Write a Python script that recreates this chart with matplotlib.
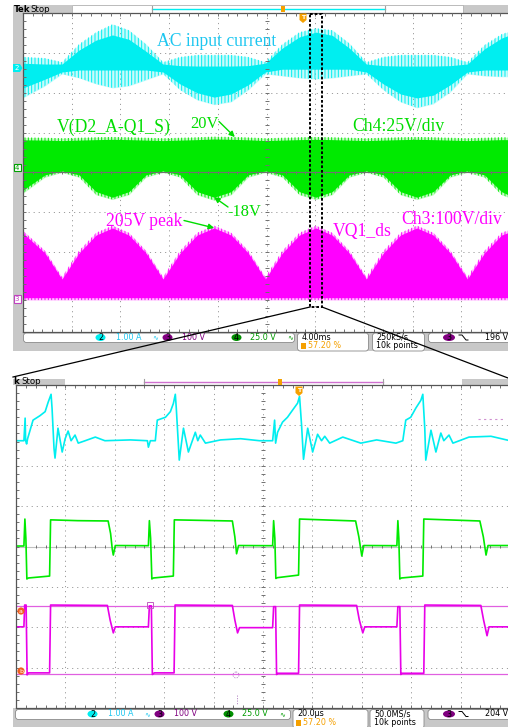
import matplotlib
matplotlib.use("Agg")
import matplotlib.pyplot as plt
from matplotlib.patches import Rectangle, FancyBboxPatch, Ellipse, Circle, Polygon
from matplotlib.collections import LineCollection
import numpy as np

# ---------------- scope settings ----------------
top_ms_per_div = 4.0        # upper record: 4.00 ms/div
zoom_us_per_div = 20.0      # lower record: 20.0 us/div
ch2_A_per_div = 1.00        # AC input current
ch3_V_per_div = 100.0       # VQ1_ds
ch4_V_per_div = 25.0        # V(D2_A-Q1_S)
ch2_pos = 2.62              # channel ground positions (divisions from centre)
ch3_pos = -3.17
ch4_pos = 0.0

# ---------------- upper record: envelopes of the dense traces ----------------
t_top = [0, 1.8, 3.2, 4.6, 6.0, 7.35, 8.7, 10.1, 11.5, 12.9, 14.3, 15.7, 17.1, 18.5,
         19.9, 21.3, 22.7, 24.05, 25.4, 26.8, 28.2, 29.6, 31.0, 32.35, 33.7, 35.1,
         36.5, 37.9, 39.3, 40.0]
# AC input current (A)
cur_core_hi = [0.12, 0.10, 0.10, 0.45, 0.70, 0.83, 0.72, 0.42, 0.10, 0.06, 0.05, 0.05,
               0.05, 0.06, 0.12, 0.50, 0.78, 0.90, 0.82, 0.50, 0.10, 0.06, 0.05, 0.05,
               0.05, 0.06, 0.10, 0.48, 0.75, 0.83]
cur_fringe_hi = [0.28, 0.25, 0.15, 0.60, 0.90, 1.10, 0.95, 0.60, 0.15, 0.28, 0.33, 0.33,
                 0.33, 0.28, 0.15, 0.60, 0.90, 1.00, 0.95, 0.62, 0.15, 0.28, 0.33, 0.33,
                 0.33, 0.28, 0.15, 0.58, 0.85, 0.92]
cur_core_lo = [-0.50, -0.28, -0.10, -0.05, -0.05, -0.05, -0.05, -0.05, -0.10, -0.40, -0.62,
               -0.73, -0.65, -0.42, -0.10, -0.03, -0.03, -0.03, -0.03, -0.03, -0.10, -0.40,
               -0.65, -0.75, -0.68, -0.42, -0.10, -0.05, -0.05, -0.05]
cur_fringe_lo = [-0.75, -0.45, -0.15, -0.25, -0.40, -0.50, -0.45, -0.30, -0.15, -0.55, -0.80,
                 -0.92, -0.85, -0.55, -0.15, -0.20, -0.25, -0.28, -0.25, -0.20, -0.15, -0.55,
                 -0.85, -1.00, -0.90, -0.60, -0.15, -0.20, -0.22, -0.22]
# V(D2_A-Q1_S) (V)
gate_core_hi = [20.5, 20.3, 20.0, 20.3, 20.6, 20.8, 20.6, 20.3, 20.0, 20.3, 20.6, 21.0, 20.8,
                20.5, 20.0, 20.3, 20.6, 20.8, 20.6, 20.3, 20.0, 20.3, 20.6, 20.8, 20.6, 20.3,
                20.0, 20.3, 20.6, 20.6]
gate_fringe_hi = [22.0, 21.8, 21.5, 21.8, 22.1, 22.3, 22.1, 21.8, 21.5, 21.8, 22.1, 22.5, 22.3,
                  22.0, 21.5, 21.8, 22.1, 22.3, 22.1, 21.8, 21.5, 21.8, 22.1, 22.3, 22.1, 21.8,
                  21.5, 21.8, 22.1, 22.1]
gate_core_lo = [-11.0, -1.5, 1.0, -1.5, -12.0, -15.5, -12.0, -1.5, 1.0, -1.5, -12.0, -15.5,
                -12.0, -1.5, 1.0, -1.5, -12.0, -15.5, -12.0, -1.5, 1.0, -1.5, -12.0, -15.5,
                -12.0, -1.5, 1.0, -1.5, -12.0, -14.5]
gate_fringe_lo = [-13.0, -3.0, 0.0, -3.0, -14.0, -17.0, -14.0, -3.0, 0.0, -3.0, -14.0, -17.5,
                  -14.0, -3.0, 0.0, -3.0, -14.0, -17.0, -14.0, -3.0, 0.0, -3.0, -14.0, -17.0,
                  -14.0, -3.0, 0.0, -3.0, -14.0, -16.0]
# VQ1_ds (V)
vds_core_hi = [165, 115, 50, 115, 160, 178, 160, 115, 50, 115, 160, 178, 160, 115, 50, 115,
               160, 178, 160, 115, 50, 115, 160, 178, 160, 115, 50, 115, 160, 168]
vds_fringe_hi = [171, 121, 55, 121, 166, 184, 166, 121, 55, 121, 166, 184, 166, 121, 55, 121,
                 166, 184, 166, 121, 55, 121, 166, 184, 166, 121, 55, 121, 166, 174]
vds_core_lo = [3] * len(t_top)
vds_fringe_lo = [-3] * len(t_top)

# ---------------- lower record: switching detail ----------------
cur_t = [0, 3.2, 3.7, 3.9, 4.3, 4.7, 6.9, 9.7, 11.8, 13.0, 14.2, 14.6, 15.4, 15.8, 17.0,
         18.7, 19.9, 21.1, 22.3, 23.9, 25.2, 28.0, 32.1, 36.0, 46.3, 53.2, 53.6, 54.4,
         56.4, 57.2, 60.5, 62.5, 63.7, 64.5, 64.9, 66.1, 67.8, 69.8, 72.6, 73.6, 74.6,
         76.7, 82.8, 90.9, 98.6, 103.9, 104.7, 105.1, 105.9, 107.9, 109.9, 112.0, 114.0,
         114.8, 115.6, 116.4, 118.1, 120.1, 122.1, 123.7, 125.0, 127.0, 132.3, 139.6,
         146.0, 153.8, 156.6, 157.8, 159.8, 161.9, 163.9, 164.7, 165.5, 165.9, 168.0,
         170.0, 172.0, 173.2, 175.3, 176.9, 183.4, 192.3, 200.0]
cur_a = [0.0, 0.0, 0.56, 0.0, -0.08, 0.05, 0.51, 0.62, 0.72, 0.95, 1.15, 0.80, -0.20, -0.43,
         0.31, -0.28, 0.05, 0.24, 0.0, 0.14, -0.06, 0.0, 0.09, 0.0, 0.02, 0.0, -0.16, 0.0,
         0.0, 0.51, 0.58, 0.72, 0.92, 1.15, 0.80, -0.48, 0.31, -0.28, 0.21, 0.0, 0.14,
         -0.06, 0.02, 0.05, 0.0, 0.0, 0.51, -0.06, 0.21, 0.46, 0.58, 0.76, 0.93, 1.10,
         0.40, -0.46, 0.31, -0.28, 0.16, 0.0, 0.11, -0.06, 0.09, -0.06, 0.02, -0.06, 0.0,
         0.51, 0.58, 0.81, 1.00, 1.15, 0.30, -0.48, 0.26, -0.28, 0.19, 0.0, 0.14, -0.06,
         0.09, 0.11, 0.0]
gate_t = [0, 3.2, 3.6, 4.0, 4.4, 5.0, 13.6, 14.0, 25.0, 37.3, 38.3, 39.0, 39.4, 40.2,
          53.6, 54.0, 54.5, 55.0, 55.6, 63.7, 64.1, 87.6, 88.6, 89.3, 90.1,
          103.9, 104.3, 104.8, 105.2, 105.8, 114.4, 114.8, 137.5, 138.8, 140.0, 140.8,
          154.2, 154.6, 155.0, 155.4, 156.0, 164.7, 165.1, 187.8, 189.2, 190.3, 191.1, 200.0]
gate_v = [0.3, 0.3, 17.0, 5.0, -20.1, -19.5, -18.3, 16.5, 16.0, 15.8, 8.0, -2.0, -5.3, 0.6,
          0.5, 16.0, 5.0, -20.1, -19.5, -18.3, 16.5, 15.8, 6.0, -4.5, 0.6,
          0.5, 16.0, 5.0, -19.8, -19.3, -17.7, 17.0, 15.8, 6.0, -5.9, 0.6,
          0.5, 16.0, 5.0, -20.1, -19.5, -18.3, 17.0, 15.8, 6.0, -5.3, 0.6, 0.6]
vds_t = [0, 3.2, 3.5, 4.1, 4.5, 5.0, 13.6, 14.0, 37.0, 38.1, 39.4, 40.2,
         53.6, 54.0, 54.8, 55.2, 56.0, 64.0, 64.4, 87.6, 88.6, 89.7, 90.5,
         103.9, 104.3, 105.1, 105.5, 106.0, 114.4, 114.8, 137.9, 139.0, 140.4, 141.2,
         154.2, 154.6, 155.4, 155.8, 156.3, 165.1, 165.5, 188.2, 189.3, 190.7, 191.5, 200.0]
vds_v = [118, 118, 172, 172, -1, 4, 4, 172, 171, 135, 103, 118,
         118, 170, 170, 0, 4, 4, 172, 171, 135, 103, 116,
         116, 168, 168, 0, 3, 3, 172, 171, 135, 103, 118,
         118, 168, 168, 0, 3, 3, 172, 171, 135, 96, 118, 118]
cursor_a_v = 170.0
cursor_b_v = 0.0

# ---------------- colours ----------------
CYAN = '#00EEF0'
CYAN_TXT = '#1CC6F0'
GREEN = '#00EA00'
GREEN_TXT = '#00DD00'
MAG = '#FF00FF'
MAG_TXT = '#FF00FF'
GRAY = '#C8C8C8'
ORANGE = '#F5A000'
PURPLE = '#800080'
GRID = '#9C9C9C'
SERIF = 'Liberation Serif'

plt.rcParams['hatch.linewidth'] = 0.7

W, H = 508, 727
fig = plt.figure(figsize=(W / 100, H / 100), dpi=100)
fig.patch.set_facecolor('white')


def px_axes(l, t, r, b, z):
    return fig.add_axes([l / W, 1 - b / H, (r - l) / W, (b - t) / H], zorder=z)


def overlay(z):
    a = fig.add_axes([0, 0, 1, 1], zorder=z)
    a.set_xlim(0, W)
    a.set_ylim(H, 0)
    a.axis('off')
    a.patch.set_alpha(0)
    return a


bg = overlay(0)
ax1 = px_axes(23, 13, 510, 332, 1)
ax2 = px_axes(16, 385, 510, 708, 1)
fg = overlay(5)


def graticule(ax, xpx, ypx, centre_col, centre_z):
    ax.set_xlim(0, 10)
    ax.set_ylim(-4, 4)
    ax.set_xticks([])
    ax.set_yticks([])
    ax.spines['right'].set_visible(False)
    for s in ('left', 'top', 'bottom'):
        ax.spines[s].set_color('#555555')
        ax.spines[s].set_linewidth(0.9)
    for x in range(1, 10):
        ax.axvline(x, color=GRID, lw=0.7, ls=(0, (1.2, 4)), zorder=0.5)
    for y in range(-3, 4):
        if y != 0:
            ax.axhline(y, color=GRID, lw=0.7, ls=(0, (1.2, 4)), zorder=0.5)
    ax.axhline(0, color=centre_col, lw=0.8, zorder=centre_z)
    hx, hy = 2.0 / xpx, 2.0 / ypx
    segs = []
    for i in range(1, 50):
        x = i * 0.2
        segs.append([(x, -hy), (x, hy)])
        segs.append([(x, 4), (x, 4 - 1.6 * hy)])
        segs.append([(x, -4), (x, -4 + 1.6 * hy)])
    for j in range(1, 40):
        y = -4 + j * 0.2
        segs.append([(5 - hx, y), (5 + hx, y)])
        segs.append([(0, y), (1.6 * hx, y)])
    ax.add_collection(LineCollection(segs, colors='#707070', linewidths=0.7, zorder=centre_z))


graticule(ax1, 48.7, 39.9, '#707070', 3)
graticule(ax2, 49.4, 40.4, '#C0C0C0', 0.6)


def band(ax, t, lo, hi, scale, pos, color, z, fringe=False):
    x = np.asarray(t) / top_ms_per_div
    y0 = pos + np.asarray(lo) / scale
    y1 = pos + np.asarray(hi) / scale
    if fringe:
        # sparse switching spikes around the dense part of the trace
        ax.fill_between(x, y0, y1, color=color, alpha=0.22, lw=0, zorder=z)
        ax.fill_between(x, y0, y1, facecolor='none', edgecolor=color, hatch='|||||',
                        lw=0, zorder=z)
    else:
        ax.fill_between(x, y0, y1, color=color, lw=0, zorder=z)


# upper record
band(ax1, t_top, vds_fringe_lo, vds_fringe_hi, ch3_V_per_div, ch3_pos, MAG, 1, True)
band(ax1, t_top, vds_core_lo, vds_core_hi, ch3_V_per_div, ch3_pos, MAG, 2)
band(ax1, t_top, gate_fringe_lo, gate_fringe_hi, ch4_V_per_div, ch4_pos, GREEN, 1, True)
band(ax1, t_top, gate_core_lo, gate_core_hi, ch4_V_per_div, ch4_pos, GREEN, 2)
band(ax1, t_top, cur_fringe_lo, cur_fringe_hi, ch2_A_per_div, ch2_pos, CYAN, 1, True)
band(ax1, t_top, cur_core_lo, cur_core_hi, ch2_A_per_div, ch2_pos, CYAN, 2)

# lower record
ax2.axhline(ch3_pos + cursor_a_v / ch3_V_per_div, color='#E060E0', lw=0.9, zorder=1)
ax2.axhline(ch3_pos + cursor_b_v / ch3_V_per_div, color='#E060E0', lw=0.9, zorder=1)
ax2.plot(np.asarray(cur_t) / zoom_us_per_div, ch2_pos + np.asarray(cur_a) / ch2_A_per_div,
         color=CYAN, lw=1.2, zorder=2)
ax2.plot(np.asarray(gate_t) / zoom_us_per_div, ch4_pos + np.asarray(gate_v) / ch4_V_per_div,
         color=GREEN, lw=1.2, zorder=2)
ax2.plot(np.asarray(vds_t) / zoom_us_per_div, ch3_pos + np.asarray(vds_v) / ch3_V_per_div,
         color='#E800E8', lw=1.2, zorder=2)

# ---------------- screen frames ----------------
bg.add_patch(Rectangle((13, 5), 10, 346, fc=GRAY, ec='none'))
bg.add_patch(Rectangle((13, 332), 495, 19, fc=GRAY, ec='none'))
bg.add_patch(Rectangle((13, 5), 59, 8, fc=GRAY, ec='none'))
bg.add_patch(Rectangle((463, 5), 45, 8, fc=GRAY, ec='none'))
bg.add_patch(Rectangle((72, 5), 391, 7.5, fc='white', ec='#B0B0B0', lw=0.6))
bg.plot([152, 385], [8.5, 8.5], color=CYAN, lw=1.0)
bg.plot([152, 152], [5.5, 12], color='#A0A0A0', lw=0.8)
bg.plot([385, 385], [5.5, 12], color='#A0A0A0', lw=0.8)
bg.text(14, 9.3, 'Tek', fontsize=6.2, fontweight='bold', va='center', ha='left',
        family='DejaVu Sans')
bg.text(30, 9.3, 'Stop', fontsize=6.2, va='center', ha='left', family='DejaVu Sans')

bg.add_patch(Rectangle((13, 708), 495, 19, fc=GRAY, ec='none'))
bg.add_patch(Rectangle((13, 378.5), 52, 6.5, fc=GRAY, ec='none'))
bg.add_patch(Rectangle((462, 378.5), 46, 6.5, fc=GRAY, ec='none'))
bg.plot([144, 383], [381.5, 381.5], color='#D070D0', lw=1.0)
bg.plot([144, 144], [379, 384.5], color='#A0A0A0', lw=0.8)
bg.plot([383, 383], [379, 384.5], color='#A0A0A0', lw=0.8)
bg.text(13.5, 381.8, 'k', fontsize=6.2, fontweight='bold', va='center', ha='left',
        family='DejaVu Sans')
bg.text(21, 381.8, 'Stop', fontsize=6.2, va='center', ha='left', family='DejaVu Sans')


def status(y1, y2, boxes, tscale, rate, trig):
    for (x, w, h) in boxes:
        bg.add_patch(FancyBboxPatch((x, y1 - 4.5), w, h, boxstyle='round,pad=0,rounding_size=3',
                                    fc='white', ec='#8A8A8A', lw=0.6))
    x0 = boxes[0][0]
    f = dict(fontsize=5.8, va='center', family='DejaVu Sans')
    items = [(CYAN, '2', 77, '1.00 A', CYAN_TXT, 92),
             (PURPLE, '3', 144, '100 V', PURPLE, 159),
             ('#009000', '4', 213, '25.0 V', '#009A00', 227)]
    for col, num, ex, label, lcol, lx in items:
        bg.add_patch(Ellipse((x0 + ex, y1), 10, 7, fc=col, ec='none'))
        bg.text(x0 + ex, y1 + 0.3, num, ha='center', color='black', **f)
        bg.text(x0 + lx, y1, label, ha='left', color=lcol, **f)
    bg.text(x0 + 129, y1, '\u223f', ha='left', color=CYAN_TXT, fontsize=5, va='center')
    bg.text(x0 + 264, y1, '\u223f', ha='left', color='#009A00', fontsize=5, va='center')
    tx = boxes[1][0]
    bg.text(tx + 4, y1, tscale, ha='left', color='black', **f)
    bg.add_patch(Rectangle((tx + 3, y2 - 3), 5, 6, fc=ORANGE, ec='none'))
    bg.text(tx + 10, y2, '57.20 %', ha='left', color=ORANGE, **f)
    rx = boxes[2][0]
    bg.text(rx + 4, y1, rate, ha='left', color='black', **f)
    bg.text(rx + 4, y2, '10k points', ha='left', color='black', **f)
    bg.add_patch(Ellipse((449, y1), 12, 7, fc=PURPLE, ec='none'))
    bg.text(449, y1 + 0.3, '3', ha='center', color='black', **f)
    bg.plot([459, 462, 466, 468], [y1 - 2.5, y1 - 2.5, y1 + 2.5, y1 + 2.5], color='black', lw=0.7)
    bg.text(485, y1, trig, ha='left', color='black', **f)


status(337.5, 345.8, [(23.5, 271, 9.5), (297.5, 71, 18), (372.5, 52, 18), (428.5, 85, 9.5)],
       '4.00ms', '250kS/s', '196 V')
status(714.0, 722.5, [(15.5, 275, 10), (293, 75, 19), (370, 54, 19), (428, 85, 10)],
       '20.0\u00b5s', '50.0MS/s', '204 V')

# ---------------- channel / trigger markers ----------------
fg.add_patch(Polygon([(13, 64), (20, 64), (22.5, 68), (20, 72), (13, 72)], fc=CYAN, ec='none'))
fg.text(16.5, 68.3, '2', fontsize=5, color='white', ha='center', va='center', family='DejaVu Sans')
fg.add_patch(Rectangle((13.5, 163.5), 7, 7.5, fc='white', ec='#00A000', lw=0.8))
fg.text(17, 167.5, '4', fontsize=5, color='#00A000', ha='center', va='center', family='DejaVu Sans')
fg.add_patch(Rectangle((13.5, 295), 7, 7.5, fc='white', ec='#C040C0', lw=0.8))
fg.text(17, 299, '3', fontsize=5, color='#C040C0', ha='center', va='center', family='DejaVu Sans')


def trig_marker(x, y):
    fg.add_patch(Polygon([(x - 3.5, y - 4.5), (x + 3.5, y - 4.5), (x + 3.5, y + 2),
                          (x, y + 5), (x - 3.5, y + 2)], fc=ORANGE, ec='none'))
    fg.text(x, y - 0.8, 'T', fontsize=4.5, color='white', ha='center', va='center',
            fontweight='bold', family='DejaVu Sans')


trig_marker(303, 18)
trig_marker(299, 391)
fg.add_patch(Rectangle((281, 5.5), 4, 6, fc=ORANGE, ec='none'))
fg.add_patch(Rectangle((278, 379), 4, 6, fc=ORANGE, ec='none'))

for yy, letter in ((611, 'a'), (671, 'b')):
    fg.add_patch(Circle((21, yy), 3.6, fc='#F06020', ec='none'))
    fg.text(21, yy + 0.2, letter, fontsize=4.5, color='white', ha='center', va='center',
            family='DejaVu Sans')
fg.add_patch(Rectangle((147, 602), 6, 6, fc='none', ec='#C060C0', lw=0.7))
fg.add_patch(Circle((236, 675), 3, fc='none', ec='#B080C0', lw=0.6, ls=(0, (1.5, 1.5))))
fg.plot([237, 237], [695, 705], color='#B080C0', lw=0.6, ls=(0, (1.5, 1.5)))
fg.plot([478, 503], [419, 419], color='#D090D0', lw=0.8, ls=(0, (2, 3)))

# ---------------- zoom window and connectors ----------------
fg.add_patch(Rectangle((310, 13.5), 12, 293.5, fc='none', ec='black', lw=1.4,
                       ls=(0, (1.4, 1.0))))
fg.plot([13, 310], [377, 307], color='black', lw=0.9)
fg.plot([322, 508], [307, 378], color='black', lw=0.9)

# ---------------- annotations ----------------
def txt(x, y, s, col, size=12.7):
    fg.text(x, y, s, color=col, fontsize=size, family=SERIF, ha='left', va='baseline')


def arrow(start, t_ms, value, scale, pos, col):
    fg.annotate('', xy=(t_ms / top_ms_per_div, pos + value / scale), xycoords=ax1.transData,
                xytext=start, textcoords=fg.transData,
                arrowprops=dict(arrowstyle='-|>', color=col, lw=1.0, mutation_scale=8,
                                shrinkA=0, shrinkB=0))


txt(157, 46, 'AC input current', CYAN_TXT)
txt(57, 132, 'V(D2_A-Q1_S)', GREEN_TXT)
txt(190, 128, '20V', GREEN_TXT, 11.8)
txt(352, 131, 'Ch4:25V/div', GREEN_TXT)
txt(227, 216.5, '-18V', GREEN_TXT, 11.8)
txt(106, 225.5, '205V peak', MAG_TXT)
txt(333, 236, 'VQ1_ds', MAG_TXT)
txt(401, 224, 'Ch3:100V/div', MAG_TXT)

t20 = 17.4
arrow((219, 121.5), t20, np.interp(t20, t_top, gate_fringe_hi), ch4_V_per_div, ch4_pos, GREEN_TXT)
i_min = 11   # second negative swing of V(D2_A-Q1_S)
arrow((228, 207), t_top[i_min], gate_core_lo[i_min], ch4_V_per_div, ch4_pos, GREEN_TXT)
i_pk = 11    # second VQ1_ds peak
arrow((184, 220.5), t_top[i_pk], vds_core_hi[i_pk], ch3_V_per_div, ch3_pos, GREEN_TXT)

fig.savefig('out.png', dpi=100, facecolor='white')
